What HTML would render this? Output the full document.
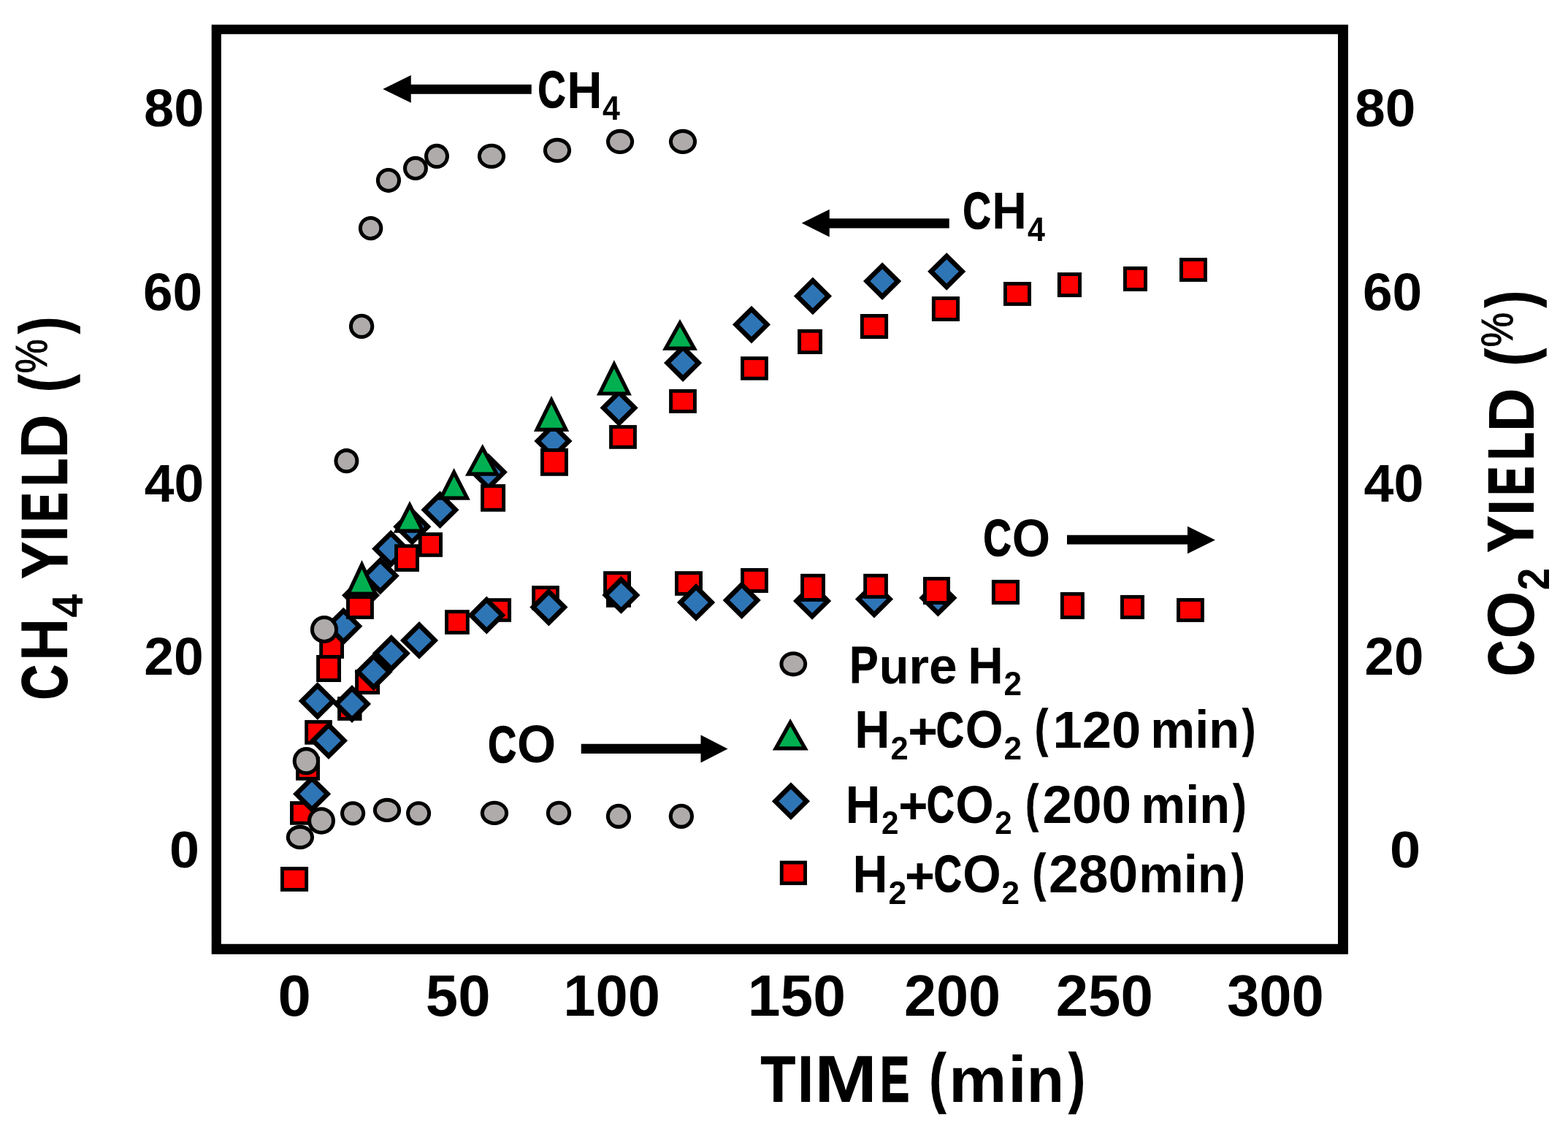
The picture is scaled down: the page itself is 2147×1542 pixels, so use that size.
<!DOCTYPE html>
<html lang="en"><head><meta charset="utf-8"><title>CH4 and CO2 yield versus time</title>
<style>
html,body{margin:0;padding:0;background:#fff;}
body{width:2147px;height:1542px;overflow:hidden;}
svg{display:block;}
text{font-family:"Liberation Sans",Arial,Helvetica,sans-serif;font-weight:700;fill:#000;white-space:pre;}
</style></head><body>
<svg xmlns="http://www.w3.org/2000/svg" width="2147" height="1542" viewBox="0 0 2147 1542">
<rect x="0" y="0" width="2147" height="1542" fill="#fff"/>
<path d="M289.7 33.75H1846V1306.75H289.7ZM302.9 46.75V1292.75H1832V46.75Z" fill="#000" fill-rule="evenodd"/>
<g id="markers">
<rect x="397" y="1097.2" width="33.8" height="32.5" fill="#000"/><rect x="401.9" y="1102.1" width="24" height="22.7" fill="#FF0000"/>
<rect x="417.2" y="986.1" width="37.6" height="33.6" fill="#000"/><rect x="422.1" y="991" width="27.8" height="23.8" fill="#FF0000"/>
<rect x="437.2" y="864.3" width="33.8" height="37.6" fill="#000"/><rect x="442.1" y="869.2" width="24" height="27.8" fill="#FF0000"/>
<rect x="462.1" y="954" width="33.4" height="32.9" fill="#000"/><rect x="467" y="958.9" width="23.6" height="23.1" fill="#FF0000"/>
<rect x="486.1" y="917" width="34" height="34" fill="#000"/><rect x="491" y="921.9" width="24.2" height="24.2" fill="#FF0000"/>
<rect x="666.3" y="819.2" width="33.75" height="32.6" fill="#000"/><rect x="671.2" y="824.1" width="23.95" height="22.8" fill="#FF0000"/>
<rect x="728.2" y="802.1" width="37.7" height="33.5" fill="#000"/><rect x="733.1" y="807" width="27.9" height="23.7" fill="#FF0000"/>
<rect x="830" y="799" width="34" height="32.8" fill="#000"/><rect x="836.6" y="805.6" width="20.8" height="19.6" fill="#FF0000"/>
<rect x="826.1" y="782.2" width="37.9" height="33.5" fill="#000"/><rect x="831" y="787.1" width="28.1" height="23.7" fill="#FF0000"/>
<rect x="924" y="782.2" width="38" height="33.6" fill="#000"/><rect x="928.9" y="787.1" width="28.2" height="23.8" fill="#FF0000"/>
<rect x="1014.1" y="778" width="37.8" height="33.9" fill="#000"/><rect x="1019" y="782.9" width="28" height="24.1" fill="#FF0000"/>
<polygon points="427.1,1061.4 453.2,1087.3 427.1,1113.2 401,1087.3" fill="#000"/><polygon points="427.1,1070.8 443.8,1087.3 427.1,1103.8 410.4,1087.3" fill="#2E75B6"/>
<polygon points="450,988.3 476.1,1014.2 450,1040.1 423.9,1014.2" fill="#000"/><polygon points="450,997.7 466.7,1014.2 450,1030.7 433.3,1014.2" fill="#2E75B6"/>
<polygon points="434.8,934.1 460.9,960 434.8,985.9 408.7,960" fill="#000"/><polygon points="434.8,943.5 451.5,960 434.8,976.5 418.1,960" fill="#2E75B6"/>
<polygon points="470.3,831.7 496.4,857.6 470.3,883.5 444.2,857.6" fill="#000"/><polygon points="470.3,841.1 487,857.6 470.3,874.1 453.6,857.6" fill="#2E75B6"/>
<polygon points="494.1,789.3 520.2,815.2 494.1,841.1 468,815.2" fill="#000"/><polygon points="494.1,798.7 510.8,815.2 494.1,831.7 477.4,815.2" fill="#2E75B6"/>
<polygon points="520.7,762.7 546.8,788.6 520.7,814.5 494.6,788.6" fill="#000"/><polygon points="520.7,772.1 537.4,788.6 520.7,805.1 504,788.6" fill="#2E75B6"/>
<polygon points="535.2,725.7 561.3,751.6 535.2,777.5 509.1,751.6" fill="#000"/><polygon points="535.2,735.1 551.9,751.6 535.2,768.1 518.5,751.6" fill="#2E75B6"/>
<polygon points="564.3,695.3 590.4,721.2 564.3,747.1 538.2,721.2" fill="#000"/><polygon points="564.3,704.7 581,721.2 564.3,737.7 547.6,721.2" fill="#2E75B6"/>
<polygon points="602.5,672.3 628.6,698.2 602.5,724.1 576.4,698.2" fill="#000"/><polygon points="602.5,681.7 619.2,698.2 602.5,714.7 585.8,698.2" fill="#2E75B6"/>
<polygon points="668.8,620.7 694.9,646.6 668.8,672.5 642.7,646.6" fill="#000"/><polygon points="668.8,630.1 685.5,646.6 668.8,663.1 652.1,646.6" fill="#2E75B6"/>
<polygon points="757.5,578 783.6,603.9 757.5,629.8 731.4,603.9" fill="#000"/><polygon points="757.5,587.4 774.2,603.9 757.5,620.4 740.8,603.9" fill="#2E75B6"/>
<polygon points="847.6,532.5 873.7,558.4 847.6,584.3 821.5,558.4" fill="#000"/><polygon points="847.6,541.9 864.3,558.4 847.6,574.9 830.9,558.4" fill="#2E75B6"/>
<polygon points="935.1,471.1 961.2,497 935.1,522.9 909,497" fill="#000"/><polygon points="935.1,480.5 951.8,497 935.1,513.5 918.4,497" fill="#2E75B6"/>
<polygon points="1029,418.7 1055.1,444.6 1029,470.5 1002.9,444.6" fill="#000"/><polygon points="1029,428.1 1045.7,444.6 1029,461.1 1012.3,444.6" fill="#2E75B6"/>
<polygon points="1112.9,379.5 1139,405.4 1112.9,431.3 1086.8,405.4" fill="#000"/><polygon points="1112.9,388.9 1129.6,405.4 1112.9,421.9 1096.2,405.4" fill="#2E75B6"/>
<polygon points="1208.1,359.15 1234.2,385.05 1208.1,410.95 1182,385.05" fill="#000"/><polygon points="1208.1,368.55 1224.8,385.05 1208.1,401.55 1191.4,385.05" fill="#2E75B6"/>
<polygon points="1296.2,345.9 1322.3,371.8 1296.2,397.7 1270.1,371.8" fill="#000"/><polygon points="1296.2,355.3 1312.9,371.8 1296.2,388.3 1279.5,371.8" fill="#2E75B6"/>
<polygon points="482,938.1 508.1,964 482,989.9 455.9,964" fill="#000"/><polygon points="482,947.5 498.7,964 482,980.5 465.3,964" fill="#2E75B6"/>
<polygon points="511.6,894.2 537.7,920.1 511.6,946 485.5,920.1" fill="#000"/><polygon points="511.6,903.6 528.3,920.1 511.6,936.6 494.9,920.1" fill="#2E75B6"/>
<polygon points="535.8,868.9 561.9,894.8 535.8,920.7 509.7,894.8" fill="#000"/><polygon points="535.8,878.3 552.5,894.8 535.8,911.3 519.1,894.8" fill="#2E75B6"/>
<polygon points="574,851 600.1,876.9 574,902.8 547.9,876.9" fill="#000"/><polygon points="574,860.4 590.7,876.9 574,893.4 557.3,876.9" fill="#2E75B6"/>
<polygon points="666.3,816.6 692.4,842.5 666.3,868.4 640.2,842.5" fill="#000"/><polygon points="666.3,826 683,842.5 666.3,859 649.6,842.5" fill="#2E75B6"/>
<polygon points="751.4,805.6 777.5,831.5 751.4,857.4 725.3,831.5" fill="#000"/><polygon points="751.4,815 768.1,831.5 751.4,848 734.7,831.5" fill="#2E75B6"/>
<polygon points="850.5,789 876.6,814.9 850.5,840.8 824.4,814.9" fill="#000"/><polygon points="850.5,798.4 867.2,814.9 850.5,831.4 833.8,814.9" fill="#2E75B6"/>
<polygon points="953.1,799 979.2,824.9 953.1,850.8 927,824.9" fill="#000"/><polygon points="953.1,808.4 969.8,824.9 953.1,841.4 936.4,824.9" fill="#2E75B6"/>
<polygon points="1015.7,796.1 1041.8,822 1015.7,847.9 989.6,822" fill="#000"/><polygon points="1015.7,805.5 1032.4,822 1015.7,838.5 999,822" fill="#2E75B6"/>
<polygon points="1112.1,797 1138.2,822.9 1112.1,848.8 1086,822.9" fill="#000"/><polygon points="1112.1,806.4 1128.8,822.9 1112.1,839.4 1095.4,822.9" fill="#2E75B6"/>
<polygon points="1197,794.7 1223.1,820.6 1197,846.5 1170.9,820.6" fill="#000"/><polygon points="1197,804.1 1213.7,820.6 1197,837.1 1180.3,820.6" fill="#2E75B6"/>
<polygon points="1284.4,792.8 1310.5,818.7 1284.4,844.6 1258.3,818.7" fill="#000"/><polygon points="1284.4,802.2 1301.1,818.7 1284.4,835.2 1267.7,818.7" fill="#2E75B6"/>
<polygon points="1082.95,1071.3 1109.05,1097.2 1082.95,1123.1 1056.85,1097.2" fill="#000"/><polygon points="1082.95,1080.7 1099.65,1097.2 1082.95,1113.7 1066.25,1097.2" fill="#2E75B6"/>
<rect x="384" y="1187" width="38.1" height="33.9" fill="#000"/><rect x="388.9" y="1191.9" width="28.3" height="24.1" fill="#FF0000"/>
<rect x="405.1" y="1036.3" width="32.9" height="32.5" fill="#000"/><rect x="410" y="1041.2" width="23.1" height="22.7" fill="#FF0000"/>
<rect x="433.1" y="897" width="33.9" height="37" fill="#000"/><rect x="438" y="901.9" width="24.1" height="27.2" fill="#FF0000"/>
<rect x="474" y="815.2" width="37.9" height="32.7" fill="#000"/><rect x="478.9" y="820.1" width="28.1" height="22.9" fill="#FF0000"/>
<rect x="540.1" y="745.3" width="33.9" height="37.6" fill="#000"/><rect x="545" y="750.2" width="24.1" height="27.8" fill="#FF0000"/>
<rect x="572.8" y="729.1" width="33.2" height="33.7" fill="#000"/><rect x="577.7" y="734" width="23.4" height="23.9" fill="#FF0000"/>
<rect x="658.1" y="663.1" width="34" height="37.6" fill="#000"/><rect x="663" y="668" width="24.2" height="27.8" fill="#FF0000"/>
<rect x="740" y="614" width="37.95" height="37.8" fill="#000"/><rect x="744.9" y="618.9" width="28.15" height="28" fill="#FF0000"/>
<rect x="834.1" y="582.1" width="37.8" height="32.7" fill="#000"/><rect x="839" y="587" width="28" height="22.9" fill="#FF0000"/>
<rect x="916.1" y="533" width="37.8" height="32.9" fill="#000"/><rect x="921" y="537.9" width="28" height="23.1" fill="#FF0000"/>
<rect x="1014.1" y="488.2" width="37.8" height="32.5" fill="#000"/><rect x="1019" y="493.1" width="28" height="22.7" fill="#FF0000"/>
<rect x="1092.1" y="450.9" width="33.9" height="34.1" fill="#000"/><rect x="1097" y="455.8" width="24.1" height="24.3" fill="#FF0000"/>
<rect x="1177.9" y="430" width="38.2" height="34" fill="#000"/><rect x="1182.8" y="434.9" width="28.4" height="24.2" fill="#FF0000"/>
<rect x="1275.9" y="406" width="38.1" height="34" fill="#000"/><rect x="1280.8" y="410.9" width="28.3" height="24.2" fill="#FF0000"/>
<rect x="1374" y="386" width="38" height="32.9" fill="#000"/><rect x="1378.9" y="390.9" width="28.2" height="23.1" fill="#FF0000"/>
<rect x="1447.9" y="373.1" width="33.1" height="33.9" fill="#000"/><rect x="1452.8" y="378" width="23.3" height="24.1" fill="#FF0000"/>
<rect x="1538" y="364.9" width="33" height="34" fill="#000"/><rect x="1542.9" y="369.8" width="23.2" height="24.2" fill="#FF0000"/>
<rect x="1615" y="353" width="37.95" height="32.9" fill="#000"/><rect x="1619.9" y="357.9" width="28.15" height="23.1" fill="#FF0000"/>
<rect x="609.1" y="835.2" width="33.7" height="33.6" fill="#000"/><rect x="614" y="840.1" width="23.9" height="23.8" fill="#FF0000"/>
<rect x="1096.1" y="785.8" width="33.9" height="38.1" fill="#000"/><rect x="1101" y="790.7" width="24.1" height="28.3" fill="#FF0000"/>
<rect x="1182.2" y="785.8" width="33.7" height="34" fill="#000"/><rect x="1187.1" y="790.7" width="23.9" height="24.2" fill="#FF0000"/>
<rect x="1264" y="790" width="37" height="37.9" fill="#000"/><rect x="1268.9" y="794.9" width="27.2" height="28.1" fill="#FF0000"/>
<rect x="1357.9" y="794" width="38.1" height="33.9" fill="#000"/><rect x="1362.8" y="798.9" width="28.3" height="24.1" fill="#FF0000"/>
<rect x="1451.9" y="810.9" width="33" height="37" fill="#000"/><rect x="1456.8" y="815.8" width="23.2" height="27.2" fill="#FF0000"/>
<rect x="1534" y="814.9" width="33" height="33" fill="#000"/><rect x="1538.9" y="819.8" width="23.2" height="23.2" fill="#FF0000"/>
<rect x="1611.05" y="819.05" width="37.85" height="32.85" fill="#000"/><rect x="1615.95" y="823.95" width="28.05" height="23.05" fill="#FF0000"/>
<rect x="1067.8" y="1178.7" width="37.2" height="33.4" fill="#000"/><rect x="1072.7" y="1183.6" width="27.4" height="23.6" fill="#FF0000"/>
<polygon points="495.5,767.1 518.2,815.8 472.7,815.8" fill="#000"/><polygon points="495.48,779.39 510.03,810.6 480.87,810.6" fill="#00B050"/>
<polygon points="561,686 583.2,729.7 538.7,729.7" fill="#000"/><polygon points="560.98,697.46 574.72,724.5 547.18,724.5" fill="#00B050"/>
<polygon points="621.6,641 643.9,684.7 599.5,684.7" fill="#000"/><polygon points="621.64,652.48 635.43,679.5 607.97,679.5" fill="#00B050"/>
<polygon points="660.75,607.9 684.6,651.8 636.9,651.8" fill="#000"/><polygon points="660.75,618.79 675.86,646.6 645.64,646.6" fill="#00B050"/>
<polygon points="755.05,542 779.2,590.9 730.9,590.9" fill="#000"/><polygon points="755.05,553.74 770.83,585.7 739.27,585.7" fill="#00B050"/>
<polygon points="840.9,493 864.9,541.6 816.9,541.6" fill="#000"/><polygon points="840.9,504.74 856.53,536.4 825.27,536.4" fill="#00B050"/>
<polygon points="931,437 955,479.7 907,479.7" fill="#000"/><polygon points="931,447.61 946.11,474.5 915.89,474.5" fill="#00B050"/>
<polygon points="1082.1,984.1 1106.8,1027.5 1057.8,1027.5" fill="#000"/><polygon points="1082.17,994.68 1097.89,1022.3 1066.71,1022.3" fill="#00B050"/>
<ellipse cx="410.9" cy="1146.5" rx="19.15" ry="16.65" fill="#000"/><ellipse cx="410.9" cy="1146.5" rx="14.05" ry="11.55" fill="#AFABAB"/>
<ellipse cx="440" cy="1124" rx="19" ry="18.8" fill="#000"/><ellipse cx="440" cy="1124" rx="13.9" ry="13.7" fill="#AFABAB"/>
<ellipse cx="419.4" cy="1042.2" rx="18.7" ry="19.15" fill="#000"/><ellipse cx="419.4" cy="1042.2" rx="13.6" ry="14.05" fill="#AFABAB"/>
<ellipse cx="444" cy="862" rx="19.15" ry="19" fill="#000"/><ellipse cx="444" cy="862" rx="14.05" ry="13.9" fill="#AFABAB"/>
<ellipse cx="474.4" cy="631.2" rx="17" ry="17.1" fill="#000"/><ellipse cx="474.4" cy="631.2" rx="11.9" ry="12" fill="#AFABAB"/>
<ellipse cx="495.1" cy="446.9" rx="17.2" ry="17.15" fill="#000"/><ellipse cx="495.1" cy="446.9" rx="12.1" ry="12.05" fill="#AFABAB"/>
<ellipse cx="507.6" cy="312.54" rx="16.75" ry="16.65" fill="#000"/><ellipse cx="507.6" cy="312.54" rx="11.65" ry="11.55" fill="#AFABAB"/>
<ellipse cx="531.95" cy="246.95" rx="17.1" ry="16.95" fill="#000"/><ellipse cx="531.95" cy="246.95" rx="12" ry="11.85" fill="#AFABAB"/>
<ellipse cx="568.96" cy="230.4" rx="17" ry="16.6" fill="#000"/><ellipse cx="568.96" cy="230.4" rx="11.9" ry="11.5" fill="#AFABAB"/>
<ellipse cx="598" cy="213.96" rx="17" ry="17.15" fill="#000"/><ellipse cx="598" cy="213.96" rx="11.9" ry="12.05" fill="#AFABAB"/>
<ellipse cx="673" cy="213.9" rx="19.15" ry="17.15" fill="#000"/><ellipse cx="673" cy="213.9" rx="14.05" ry="12.05" fill="#AFABAB"/>
<ellipse cx="763" cy="205.9" rx="19.15" ry="17.1" fill="#000"/><ellipse cx="763" cy="205.9" rx="14.05" ry="12" fill="#AFABAB"/>
<ellipse cx="849.05" cy="193.95" rx="19.1" ry="17.15" fill="#000"/><ellipse cx="849.05" cy="193.95" rx="14" ry="12.05" fill="#AFABAB"/>
<ellipse cx="935" cy="193.96" rx="19.1" ry="17.15" fill="#000"/><ellipse cx="935" cy="193.96" rx="14" ry="12.05" fill="#AFABAB"/>
<ellipse cx="483.1" cy="1113.8" rx="17.1" ry="16.65" fill="#000"/><ellipse cx="483.1" cy="1113.8" rx="12" ry="11.55" fill="#AFABAB"/>
<ellipse cx="530" cy="1109.4" rx="19.15" ry="16.6" fill="#000"/><ellipse cx="530" cy="1109.4" rx="14.05" ry="11.5" fill="#AFABAB"/>
<ellipse cx="573.1" cy="1113.8" rx="17.05" ry="16.65" fill="#000"/><ellipse cx="573.1" cy="1113.8" rx="11.95" ry="11.55" fill="#AFABAB"/>
<ellipse cx="677" cy="1113.4" rx="19.15" ry="16.65" fill="#000"/><ellipse cx="677" cy="1113.4" rx="14.05" ry="11.55" fill="#AFABAB"/>
<ellipse cx="765" cy="1113.4" rx="17.15" ry="16.65" fill="#000"/><ellipse cx="765" cy="1113.4" rx="12.05" ry="11.55" fill="#AFABAB"/>
<ellipse cx="846.97" cy="1117.84" rx="17.15" ry="17.1" fill="#000"/><ellipse cx="846.97" cy="1117.84" rx="12.05" ry="12" fill="#AFABAB"/>
<ellipse cx="932.9" cy="1117.84" rx="17.15" ry="17.1" fill="#000"/><ellipse cx="932.9" cy="1117.84" rx="12.05" ry="12" fill="#AFABAB"/>
<ellipse cx="1086.3" cy="909.3" rx="18.9" ry="17.1" fill="#000"/><ellipse cx="1086.3" cy="909.3" rx="13.8" ry="12" fill="#AFABAB"/>
</g>
<g id="arrows">
<polygon points="524.25,122 562.75,103 562.75,115.75 727.75,115.75 727.75,128.75 562.75,128.75 562.75,140.75" fill="#000"/>
<polygon points="1097.75,305.5 1135.75,286.75 1135.75,299.25 1299.75,299.25 1299.75,312.5 1135.75,312.5 1135.75,324.5" fill="#000"/>
<polygon points="1664,739.5 1626,720.75 1626,732.75 1461,732.75 1461,745.5 1626,745.5 1626,758.3" fill="#000"/>
<polygon points="996.5,1025.5 959.5,1006.5 959.5,1018.75 795.75,1018.75 795.75,1032 959.5,1032 959.5,1044.5" fill="#000"/>
</g>
<g id="yticks-left">
<text><tspan x="197.1" y="173.27" font-size="72.79" textLength="82.28" lengthAdjust="spacingAndGlyphs">80</tspan></text>
<text><tspan x="196.02" y="425.27" font-size="72.79" textLength="81.07" lengthAdjust="spacingAndGlyphs">60</tspan></text>
<text><tspan x="197.8" y="686.68" font-size="71.66" textLength="81.39" lengthAdjust="spacingAndGlyphs">40</tspan></text>
<text><tspan x="197.24" y="923.59" font-size="71.38" textLength="81.46" lengthAdjust="spacingAndGlyphs">20</tspan></text>
<text><tspan x="232.05" y="1187.79" font-size="71.02" textLength="40.98" lengthAdjust="spacingAndGlyphs">0</tspan></text>
</g>
<g id="yticks-right">
<text><tspan x="1855.17" y="173.27" font-size="72.79" textLength="83.2" lengthAdjust="spacingAndGlyphs">80</tspan></text>
<text><tspan x="1865.96" y="425.27" font-size="72.79" textLength="81.23" lengthAdjust="spacingAndGlyphs">60</tspan></text>
<text><tspan x="1867.6" y="686.88" font-size="71.52" textLength="81.82" lengthAdjust="spacingAndGlyphs">40</tspan></text>
<text><tspan x="1868.56" y="923.98" font-size="71.66" textLength="80.82" lengthAdjust="spacingAndGlyphs">20</tspan></text>
<text><tspan x="1902.97" y="1187.79" font-size="70.67" textLength="42.15" lengthAdjust="spacingAndGlyphs">0</tspan></text>
</g>
<g id="xticks">
<text><tspan x="380.49" y="1391.01" font-size="79.43" textLength="45.37" lengthAdjust="spacingAndGlyphs">0</tspan></text>
<text><tspan x="582.86" y="1391.01" font-size="79.43" textLength="88.77" lengthAdjust="spacingAndGlyphs">50</tspan></text>
<text><tspan x="771.28" y="1391.01" font-size="79.43" textLength="132.73" lengthAdjust="spacingAndGlyphs">100</tspan></text>
<text><tspan x="1023.72" y="1391.01" font-size="79.43" textLength="134.38" lengthAdjust="spacingAndGlyphs">150</tspan></text>
<text><tspan x="1237.92" y="1391.01" font-size="79.43" textLength="132.32" lengthAdjust="spacingAndGlyphs">200</tspan></text>
<text><tspan x="1445.71" y="1391.01" font-size="79.43" textLength="133.16" lengthAdjust="spacingAndGlyphs">250</tspan></text>
<text><tspan x="1679.91" y="1391.01" font-size="79.43" textLength="132.85" lengthAdjust="spacingAndGlyphs">300</tspan></text>
</g>
<g id="xtitle">
<text><tspan x="1041.62" y="1508.4" font-size="88.73" textLength="47.63" lengthAdjust="spacingAndGlyphs" stroke="#000" stroke-width="1">T</tspan><tspan x="1091.46" y="1508.9" font-size="90.18" textLength="23.2" lengthAdjust="spacingAndGlyphs">I</tspan><tspan x="1115.26" y="1508.9" font-size="90.18" textLength="85.63" lengthAdjust="spacingAndGlyphs">M</tspan><tspan x="1205.37" y="1507.7" font-size="86.69" textLength="39.78" lengthAdjust="spacingAndGlyphs" stroke="#000" stroke-width="2.4">E</tspan><tspan x="1254.29" y="1506.28" font-size="89" textLength="40.78" lengthAdjust="spacingAndGlyphs" stroke="#000" stroke-width="1.71"> (</tspan><tspan x="1299.22" y="1508.9" font-size="86.88" textLength="79.06" lengthAdjust="spacingAndGlyphs">m</tspan><tspan x="1380.08" y="1508.9" font-size="89.52" textLength="25.86" lengthAdjust="spacingAndGlyphs">i</tspan><tspan x="1405.75" y="1508.9" font-size="86.88" textLength="51.26" lengthAdjust="spacingAndGlyphs">n</tspan><tspan x="1463.84" y="1506.25" font-size="88.89" textLength="21.76" lengthAdjust="spacingAndGlyphs" stroke="#000" stroke-width="1.81">)</tspan></text>
</g>
<g id="ytitle-left">
<text transform="translate(92.1 956.7) rotate(-90)"><tspan x="-1.65" y="-0.98" font-size="87.62" textLength="47.84" lengthAdjust="spacingAndGlyphs" stroke="#000" stroke-width="2.01">C</tspan><tspan x="51.41" y="0" font-size="90.33" textLength="58.76" lengthAdjust="spacingAndGlyphs">H</tspan><tspan x="110.83" y="21" font-size="59.49" textLength="32.12" lengthAdjust="spacingAndGlyphs">4</tspan><tspan x="144.02" y="-0.58" font-size="88.64" textLength="70.68" lengthAdjust="spacingAndGlyphs" stroke="#000" stroke-width="1.16"> Y</tspan><tspan x="214.12" y="0" font-size="90.33" textLength="23.4" lengthAdjust="spacingAndGlyphs">I</tspan><tspan x="242.04" y="-1.2" font-size="86.84" textLength="40.14" lengthAdjust="spacingAndGlyphs" stroke="#000" stroke-width="2.4">E</tspan><tspan x="291.26" y="-1.18" font-size="86.91" textLength="37.25" lengthAdjust="spacingAndGlyphs" stroke="#000" stroke-width="2.35">L</tspan><tspan x="329.06" y="0" font-size="90.33" textLength="60.37" lengthAdjust="spacingAndGlyphs">D</tspan><tspan x="399.73" y="-2.29" font-size="89.69" textLength="43.93" lengthAdjust="spacingAndGlyphs" stroke="#000" stroke-width="1.36"> (</tspan><tspan x="445.4" y="-27.75" font-size="60.43" textLength="46.99" lengthAdjust="spacingAndGlyphs" font-weight="400" stroke="#000" stroke-width="0.9">%</tspan><tspan x="500.18" y="-2.39" font-size="89.33" textLength="22.36" lengthAdjust="spacingAndGlyphs" stroke="#000" stroke-width="1.7">)</tspan></text>
</g>
<g id="ytitle-right">
<text transform="translate(2100 923.9) rotate(-90)"><tspan x="-1.73" y="-0.93" font-size="87.48" textLength="48.5" lengthAdjust="spacingAndGlyphs" stroke="#000" stroke-width="1.91">C</tspan><tspan x="49.25" y="0" font-size="90.18" textLength="65.14" lengthAdjust="spacingAndGlyphs">O</tspan><tspan x="115.78" y="20.9" font-size="60.22" textLength="30.47" lengthAdjust="spacingAndGlyphs">2</tspan><tspan x="147.61" y="-0.59" font-size="88.18" textLength="70.07" lengthAdjust="spacingAndGlyphs" stroke="#000" stroke-width="1.18"> Y</tspan><tspan x="217.22" y="0" font-size="89.89" textLength="23.79" lengthAdjust="spacingAndGlyphs">I</tspan><tspan x="245.29" y="-1.2" font-size="86.4" textLength="39.66" lengthAdjust="spacingAndGlyphs" stroke="#000" stroke-width="2.4">E</tspan><tspan x="294.18" y="-1.14" font-size="86.59" textLength="37.58" lengthAdjust="spacingAndGlyphs" stroke="#000" stroke-width="2.27">L</tspan><tspan x="332.48" y="0" font-size="89.89" textLength="60.13" lengthAdjust="spacingAndGlyphs">D</tspan><tspan x="403.24" y="-2.26" font-size="89.43" textLength="43.39" lengthAdjust="spacingAndGlyphs" stroke="#000" stroke-width="1.41"> (</tspan><tspan x="448.37" y="-28.55" font-size="60.57" textLength="47.64" lengthAdjust="spacingAndGlyphs" font-weight="400" stroke="#000" stroke-width="0.9">%</tspan><tspan x="503.17" y="-2.34" font-size="89.13" textLength="22.38" lengthAdjust="spacingAndGlyphs" stroke="#000" stroke-width="1.68">)</tspan></text>
</g>
<g id="annotations">
<text><tspan x="736.46" y="147.49" font-size="69.79" textLength="37.9" lengthAdjust="spacingAndGlyphs" stroke="#000" stroke-width="1.62">C</tspan><tspan x="776.24" y="147.5" font-size="70.55" textLength="48.25" lengthAdjust="spacingAndGlyphs">H</tspan><tspan x="825.11" y="163.75" font-size="45.45" textLength="23.91" lengthAdjust="spacingAndGlyphs">4</tspan></text>
<text><tspan x="1318.45" y="312.99" font-size="70.15" textLength="38.18" lengthAdjust="spacingAndGlyphs" stroke="#000" stroke-width="1.62">C</tspan><tspan x="1358.3" y="313" font-size="70.91" textLength="47.63" lengthAdjust="spacingAndGlyphs">H</tspan><tspan x="1407.11" y="329.5" font-size="45.82" textLength="23.91" lengthAdjust="spacingAndGlyphs">4</tspan></text>
<text><tspan x="1346.45" y="761.24" font-size="70.15" textLength="38.18" lengthAdjust="spacingAndGlyphs" stroke="#000" stroke-width="1.62">C</tspan><tspan x="1385.81" y="762.03" font-size="72.44" textLength="52.32" lengthAdjust="spacingAndGlyphs">O</tspan></text>
<text><tspan x="668.13" y="1043.52" font-size="70.25" textLength="38.81" lengthAdjust="spacingAndGlyphs" stroke="#000" stroke-width="1.55">C</tspan><tspan x="708.02" y="1044.28" font-size="72.44" textLength="53.16" lengthAdjust="spacingAndGlyphs">O</tspan></text>
</g>
<g id="legend">
<text><tspan x="1163.15" y="935.39" font-size="69.79" textLength="39.17" lengthAdjust="spacingAndGlyphs" stroke="#000" stroke-width="1.02">P</tspan><tspan x="1203.83" y="935.91" font-size="69.4" textLength="40.76" lengthAdjust="spacingAndGlyphs">u</tspan><tspan x="1244.25" y="935.9" font-size="69.4" textLength="27.87" lengthAdjust="spacingAndGlyphs">r</tspan><tspan x="1271.91" y="936" font-size="69.95" textLength="38.73" lengthAdjust="spacingAndGlyphs">e</tspan><tspan x="1306.5" y="935.9" font-size="71.27" textLength="67.23" lengthAdjust="spacingAndGlyphs"> H</tspan><tspan x="1374.55" y="952.1" font-size="45.3" textLength="24.56" lengthAdjust="spacingAndGlyphs">2</tspan></text>
<text><tspan x="1170.3" y="1023.9" font-size="71.42" textLength="48.19" lengthAdjust="spacingAndGlyphs">H</tspan><tspan x="1219.58" y="1039.9" font-size="45.16" textLength="24.22" lengthAdjust="spacingAndGlyphs">2</tspan><tspan x="1243.24" y="1025.64" font-size="70.54" textLength="40.65" lengthAdjust="spacingAndGlyphs">+</tspan><tspan x="1282.12" y="1023.2" font-size="69.38" textLength="37.69" lengthAdjust="spacingAndGlyphs" stroke="#000" stroke-width="1.61">C</tspan><tspan x="1321.64" y="1023.98" font-size="71.66" textLength="51.82" lengthAdjust="spacingAndGlyphs">O</tspan><tspan x="1374.55" y="1039.9" font-size="45.16" textLength="24.56" lengthAdjust="spacingAndGlyphs">2</tspan><tspan x="1402.7" y="1021.43" font-size="70.26" textLength="31.88" lengthAdjust="spacingAndGlyphs" stroke="#000" stroke-width="1.39"> (</tspan><tspan x="1441.48" y="1023.79" font-size="70.95" textLength="120.79" lengthAdjust="spacingAndGlyphs">120</tspan><tspan x="1556.34" y="1023.9" font-size="71.59" textLength="140.82" lengthAdjust="spacingAndGlyphs"> min</tspan><tspan x="1701.56" y="1021.43" font-size="70.26" textLength="17.38" lengthAdjust="spacingAndGlyphs" stroke="#000" stroke-width="1.39">)</tspan></text>
<text><tspan x="1157.65" y="1126.7" font-size="72.15" textLength="47.57" lengthAdjust="spacingAndGlyphs">H</tspan><tspan x="1207.12" y="1142.2" font-size="45.16" textLength="23.52" lengthAdjust="spacingAndGlyphs">2</tspan><tspan x="1230.17" y="1127.94" font-size="70.54" textLength="40.29" lengthAdjust="spacingAndGlyphs">+</tspan><tspan x="1269.06" y="1125.96" font-size="69.99" textLength="37.62" lengthAdjust="spacingAndGlyphs" stroke="#000" stroke-width="1.68">C</tspan><tspan x="1308.3" y="1126.78" font-size="72.37" textLength="52.49" lengthAdjust="spacingAndGlyphs">O</tspan><tspan x="1362.23" y="1142.2" font-size="45.16" textLength="23.4" lengthAdjust="spacingAndGlyphs">2</tspan><tspan x="1390.35" y="1123.71" font-size="70.18" textLength="31.3" lengthAdjust="spacingAndGlyphs" stroke="#000" stroke-width="1.45"> (</tspan><tspan x="1427.45" y="1126.58" font-size="71.66" textLength="121.74" lengthAdjust="spacingAndGlyphs">200</tspan><tspan x="1543.32" y="1126.7" font-size="72.28" textLength="140.94" lengthAdjust="spacingAndGlyphs"> min</tspan><tspan x="1688.86" y="1123.73" font-size="70.26" textLength="17.38" lengthAdjust="spacingAndGlyphs" stroke="#000" stroke-width="1.39">)</tspan></text>
<text><tspan x="1167.62" y="1222.1" font-size="71.85" textLength="47.94" lengthAdjust="spacingAndGlyphs">H</tspan><tspan x="1216.45" y="1237.8" font-size="45.16" textLength="24.68" lengthAdjust="spacingAndGlyphs">2</tspan><tspan x="1239.03" y="1223.54" font-size="70.54" textLength="40.88" lengthAdjust="spacingAndGlyphs">+</tspan><tspan x="1278.81" y="1221.39" font-size="69.79" textLength="37.9" lengthAdjust="spacingAndGlyphs" stroke="#000" stroke-width="1.62">C</tspan><tspan x="1318.3" y="1222.18" font-size="72.08" textLength="52.49" lengthAdjust="spacingAndGlyphs">O</tspan><tspan x="1371.24" y="1237.8" font-size="45.16" textLength="24.8" lengthAdjust="spacingAndGlyphs">2</tspan><tspan x="1399.25" y="1219.35" font-size="70.33" textLength="32.47" lengthAdjust="spacingAndGlyphs" stroke="#000" stroke-width="1.32"> (</tspan><tspan x="1436.14" y="1221.99" font-size="71.38" textLength="122.16" lengthAdjust="spacingAndGlyphs">280</tspan><tspan x="1559.31" y="1222.1" font-size="72" textLength="122.75" lengthAdjust="spacingAndGlyphs">min</tspan><tspan x="1686.66" y="1219.33" font-size="70.26" textLength="17.38" lengthAdjust="spacingAndGlyphs" stroke="#000" stroke-width="1.39">)</tspan></text>
</g>
</svg>
</body></html>
